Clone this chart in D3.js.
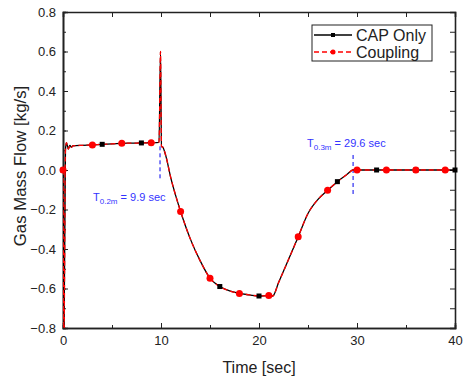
<html lang="en">
<head>
  <meta charset="UTF-8">
  <script src="https://d3js.org/d3.v7.min.js"></script>
  <style>
    body { margin: 0; background: #fff; }
    text { font-family: Arial, "Liberation Sans", sans-serif; }
  </style>
</head>
<body>
  <svg id="chart"></svg>
  <script>
    // time samples [sec]
    const time = [0, 0.1, 0.25, 0.35, 0.55, 0.7, 0.85, 1, 2, 3, 4, 5, 6, 7, 8, 9, 9.8, 9.95, 10.05, 10.2, 10.5, 11, 11.5,
      12, 13, 14, 15, 16, 17, 18, 19, 20, 21, 21.4, 22, 23, 24, 25, 26, 27, 28, 29, 29.6, 30, 32, 33, 36, 39, 40];
    // gas mass flow [kg/s]
    const capOnly = [0, -0.85, 0.10, 0.138, 0.106, 0.125, 0.115, 0.122, 0.125, 0.127, 0.130, 0.132, 0.135, 0.136, 0.137, 0.138, 0.140, 0.60, 0.12, 0.115, 0.07, -0.04, -0.13,
      -0.21, -0.35, -0.46, -0.548, -0.59, -0.612, -0.625, -0.632, -0.638, -0.636, -0.638, -0.57, -0.455, -0.338, -0.22, -0.15, -0.103, -0.059, -0.022, 0, 0, 0, 0, 0, 0, 0];
    const coupling = [0, -0.85, 0.10, 0.138, 0.106, 0.125, 0.115, 0.122, 0.125, 0.127, 0.130, 0.132, 0.135, 0.136, 0.137, 0.138, 0.140, 0.60, 0.12, 0.115, 0.07, -0.04, -0.13,
      -0.21, -0.35, -0.46, -0.548, -0.59, -0.612, -0.625, -0.632, -0.638, -0.636, -0.638, -0.57, -0.455, -0.338, -0.22, -0.15, -0.103, -0.059, -0.022, 0, 0, 0, 0, 0, 0, 0];
    // times where the symbols are drawn
    const capMarkTimes = [0, 4, 8, 12, 16, 20, 24, 28, 32, 36, 40];
    const couplingMarkTimes = [0, 3, 6, 9, 12, 15, 18, 21, 24, 27, 30, 33, 36, 39];

    const xTicks = [0, 10, 20, 30, 40];
    const yTicks = [-0.8, -0.6, -0.4, -0.2, 0.0, 0.2, 0.4, 0.6, 0.8];

    // annotations: time, top and bottom of the dashed marker, label
    const annotations = [
      { t: 9.9, y0: 0.12, y1: -0.05, main: "T", sub: "0.2m", rest: " = 9.9 sec", lx: 93, ly: 201 },
      { t: 29.6, y0: 0.076, y1: -0.135, main: "T", sub: "0.3m", rest: " = 29.6 sec", lx: 307, ly: 147 }
    ];

    const width = 463;
    const height = 380;
    const margin = { top: 12, right: 8, bottom: 52, left: 63 };
    const chartWidth = width - margin.left - margin.right;
    const chartHeight = height - margin.top - margin.bottom;

    const svg = d3.select("#chart").attr("width", width).attr("height", height);
    const g = svg.append("g").attr("transform", `translate(${margin.left}, ${margin.top})`);

    const x = d3.scaleLinear().domain([0, 40]).range([0, chartWidth]);
    const y = d3.scaleLinear().domain([-0.8, 0.8]).range([chartHeight, 0]);

    g.append("clipPath").attr("id", "clip")
      .append("rect").attr("width", chartWidth).attr("height", chartHeight);

    // axes, ticks inward (Origin style)
    const minorX = d3.range(0, 41, 5);
    const minorY = d3.range(-8, 9).map(d => d / 10);

    const drawAxis = (axis, transform, cls) => {
      const a = g.append("g").attr("class", cls).attr("transform", transform).call(axis);
      a.select(".domain").attr("stroke", "#222").attr("stroke-width", 1.6);
      a.selectAll(".tick line").attr("stroke", "#222").attr("stroke-width", 1);
      a.selectAll("text").attr("font-size", 13).attr("fill", "#222");
      return a;
    };

    drawAxis(d3.axisBottom(x).tickValues(minorX).tickSize(-3).tickFormat(""), `translate(0,${chartHeight})`, "xminor");
    drawAxis(d3.axisBottom(x).tickValues(xTicks).tickSize(-5).tickPadding(8).tickFormat(d3.format("d")), `translate(0,${chartHeight})`, "xaxis");
    drawAxis(d3.axisTop(x).tickValues(minorX).tickSize(-5).tickFormat(""), "translate(0,0)", "xtop");
    drawAxis(d3.axisLeft(y).tickValues(minorY).tickSize(-3).tickFormat(""), "translate(0,0)", "yminor");
    drawAxis(d3.axisLeft(y).tickValues(yTicks).tickSize(-5).tickPadding(7).tickFormat(d3.format(".1f")), "translate(0,0)", "yaxis");
    drawAxis(d3.axisRight(y).tickValues(minorY).tickSize(-5).tickFormat(""), `translate(${chartWidth},0)`, "yright");

    // axis titles
    svg.append("text")
      .attr("x", margin.left + chartWidth / 2)
      .attr("y", 373)
      .attr("text-anchor", "middle")
      .attr("font-size", 16)
      .attr("fill", "#222")
      .text("Time [sec]");

    svg.append("text")
      .attr("transform", `translate(26,166) rotate(-90)`)
      .attr("text-anchor", "middle")
      .attr("font-size", 16.8)
      .attr("fill", "#222")
      .text("Gas Mass Flow [kg/s]");

    // dashed markers
    annotations.forEach(a => {
      g.append("line")
        .attr("x1", x(a.t)).attr("x2", x(a.t))
        .attr("y1", y(a.y0)).attr("y2", y(a.y1))
        .attr("stroke", "#0000ee")
        .attr("stroke-width", 1)
        .attr("stroke-dasharray", "4,3");
    });

    const plot = g.append("g").attr("clip-path", "url(#clip)");

    const line = d3.line()
      .x(d => x(d[0]))
      .y(d => y(d[1]))
      .curve(d3.curveMonotoneX);

    const capData = time.map((t, i) => [t, capOnly[i]]);
    const coupData = time.map((t, i) => [t, coupling[i]]);

    plot.append("path")
      .datum(capData)
      .attr("fill", "none")
      .attr("stroke", "#000")
      .attr("stroke-width", 1.3)
      .attr("d", line);

    plot.append("path")
      .datum(coupData)
      .attr("fill", "none")
      .attr("stroke", "#ff0000")
      .attr("stroke-width", 1.3)
      .attr("stroke-dasharray", "5,3")
      .attr("d", line);

    // symbols
    g.selectAll("rect.cap")
      .data(capData.filter(d => capMarkTimes.includes(d[0])))
      .enter()
      .append("rect")
      .attr("class", "cap")
      .attr("x", d => x(d[0]) - 2.5)
      .attr("y", d => y(d[1]) - 2.5)
      .attr("width", 5)
      .attr("height", 5)
      .attr("fill", "#000");

    g.selectAll("circle.coup")
      .data(coupData.filter(d => couplingMarkTimes.includes(d[0])))
      .enter()
      .append("circle")
      .attr("class", "coup")
      .attr("cx", d => x(d[0]))
      .attr("cy", d => y(d[1]))
      .attr("r", 3.5)
      .attr("fill", "#ff0000");

    // annotation labels
    annotations.forEach(a => {
      const t = svg.append("text")
        .attr("x", a.lx).attr("y", a.ly)
        .attr("font-size", 11)
        .attr("fill", "#3333ff");
      t.append("tspan").text(a.main);
      t.append("tspan").attr("font-size", 8).attr("dy", 2.5).text(a.sub);
      t.append("tspan").attr("dy", -2.5).text(a.rest);
    });

    // legend
    const legend = svg.append("g").attr("transform", "translate(312,25)");
    legend.append("rect")
      .attr("width", 120).attr("height", 36)
      .attr("fill", "#fff").attr("stroke", "#222").attr("stroke-width", 1);

    const legendItems = [
      { label: "CAP Only", color: "#000", dash: null, shape: "square" },
      { label: "Coupling", color: "#ff0000", dash: "5,3", shape: "circle" }
    ];

    legendItems.forEach((d, i) => {
      const row = legend.append("g").attr("transform", `translate(0,${10 + i * 17})`);
      row.append("line")
        .attr("x1", 2).attr("x2", 40)
        .attr("stroke", d.color).attr("stroke-width", 1.3)
        .attr("stroke-dasharray", d.dash);
      if (d.shape === "square") {
        row.append("rect").attr("x", 19).attr("y", -2).attr("width", 4).attr("height", 4).attr("fill", d.color);
      } else {
        row.append("circle").attr("cx", 21).attr("cy", 0).attr("r", 2.5).attr("fill", d.color);
      }
      row.append("text")
        .attr("x", 44).attr("y", 6)
        .attr("font-size", 16)
        .attr("fill", "#222")
        .text(d.label);
    });
  </script>
</body>
</html>
